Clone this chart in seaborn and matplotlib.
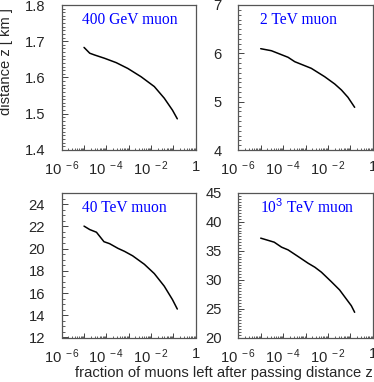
import numpy as np
import matplotlib
matplotlib.use("Agg")
import matplotlib.pyplot as plt
import matplotlib.ticker as mticker
import seaborn as sns

# fraction of muons left vs. distance z [km], one curve per muon energy
frac_400gev = [1.0e-5, 1.8e-5, 3.0e-5, 8.3e-5, 2.75e-4, 9.1e-4, 3.6e-3, 1.4e-2, 3.9e-2, 9.1e-2, 0.15]
z_400gev = [1.683, 1.667, 1.662, 1.653, 1.641, 1.625, 1.602, 1.575, 1.543, 1.510, 1.486]

frac_2tev = [1.0e-5, 3.0e-5, 1.66e-4, 3.3e-4, 1.8e-3, 7.1e-3, 2.0e-2, 4.0e-2, 7.8e-2, 0.155]
z_2tev = [6.096, 6.054, 5.918, 5.827, 5.690, 5.517, 5.366, 5.241, 5.09, 4.883]

frac_40tev = [1.0e-5, 1.8e-5, 3.6e-5, 7.8e-5, 1.4e-4, 3.3e-4, 6.5e-4, 1.5e-3, 5.0e-3, 1.4e-2, 3.9e-2, 9.1e-2, 0.15]
z_40tev = [22.02, 21.71, 21.47, 20.62, 20.44, 20.02, 19.75, 19.35, 18.59, 17.75, 16.62, 15.41, 14.56]

frac_1000tev = [1.0e-5, 4.0e-5, 8.5e-5, 1.66e-4, 4.7e-4, 1.3e-3, 2.6e-3, 5.1e-3, 1.4e-2, 3.3e-2, 5.5e-2, 0.11, 0.155]
z_1000tev = [37.19, 36.49, 35.63, 35.16, 34.0, 32.85, 32.16, 31.3, 29.67, 28.23, 27.07, 25.5, 24.36]

titles = ["400 GeV muon", "2 TeV muon", "40 TeV muon", r"10$^3$ TeV muon"]
y_limits = [(1.4, 1.8), (4, 7), (12, 25), (20, 45)]
y_major = [0.1, 1, 2, 5]
y_minor_div = [10, 10, 4, 10]

sns.set_style("ticks")
plt.rcParams["font.family"] = ["Liberation Sans", "DejaVu Sans"]
plt.rcParams["mathtext.fontset"] = "custom"
plt.rcParams["mathtext.rm"] = "Liberation Sans"
plt.rcParams["mathtext.it"] = "Liberation Sans:italic"

fig = plt.figure(figsize=(3.74, 3.82), dpi=100)
W, H = 374.0, 382.0
boxes = [(61.7, 5, 134, 145), (238.3, 5, 134.5, 145),
         (61.7, 193, 134, 144.5), (238.3, 193, 134.5, 144.5)]
data = [(frac_400gev, z_400gev), (frac_2tev, z_2tev),
        (frac_40tev, z_40tev), (frac_1000tev, z_1000tev)]
FS = 10.6


def xfmt(v, pos):
    e = int(round(np.log10(v)))
    if e == 0:
        return "1"
    if e % 2:
        return ""
    return r"$10^{\ %d}$" % e


for i, (l, t, w, h) in enumerate(boxes):
    ax = fig.add_axes([l / W, 1 - (t + h) / H, w / W, h / H])
    fx, zy = data[i]
    sns.lineplot(x=fx, y=zy, ax=ax, color="black", linewidth=1.1, sort=False)
    ax.set_xscale("log")
    ax.set_xlim(1e-6, 1)
    ax.set_ylim(*y_limits[i])
    ax.xaxis.set_major_locator(mticker.FixedLocator([1e-6, 1e-5, 1e-4, 1e-3, 1e-2, 1e-1, 1]))
    ax.xaxis.set_major_formatter(mticker.FuncFormatter(xfmt))
    ax.xaxis.set_minor_locator(mticker.LogLocator(base=10, subs=np.arange(2, 10), numticks=20))
    ax.xaxis.set_minor_formatter(mticker.NullFormatter())
    ax.yaxis.set_major_locator(mticker.MultipleLocator(y_major[i]))
    ax.yaxis.set_minor_locator(mticker.AutoMinorLocator(y_minor_div[i]))
    if i == 0:
        ax.yaxis.set_major_formatter(mticker.FormatStrFormatter("%.1f"))
    ax.tick_params(axis="x", which="major", direction="in", length=3.5, width=0.7,
                   color="#444444", labelsize=FS, pad=7)
    ax.tick_params(axis="x", which="minor", direction="in", length=1.8, width=0.6, color="#444444")
    ax.tick_params(axis="y", which="major", direction="in", length=4.5, width=0.7,
                   color="#444444", labelsize=FS, pad=12)
    ax.tick_params(axis="y", which="minor", direction="in", length=2.2, width=0.6, color="#444444")
    for s in ax.spines.values():
        s.set_color("#555555")
        s.set_linewidth(0.9)
    ax.set_xlabel("")
    ax.set_ylabel("")
    ax.text(0.153 if i % 2 == 0 else 0.158, 0.898, titles[i], transform=ax.transAxes,
            color="#0000ff", fontsize=11.2, family=["Liberation Serif", "DejaVu Serif"],
            ha="left", va="center")

fig.text(6.5 / W, 1 - 62 / H, "distance z [ km ]", rotation=90, ha="center", va="center", fontsize=FS)
fig.text(373 / W, 2.5 / H, "fraction of muons left after passing distance z",
         ha="right", va="bottom", fontsize=FS)

fig.savefig("out.png", dpi=100)
